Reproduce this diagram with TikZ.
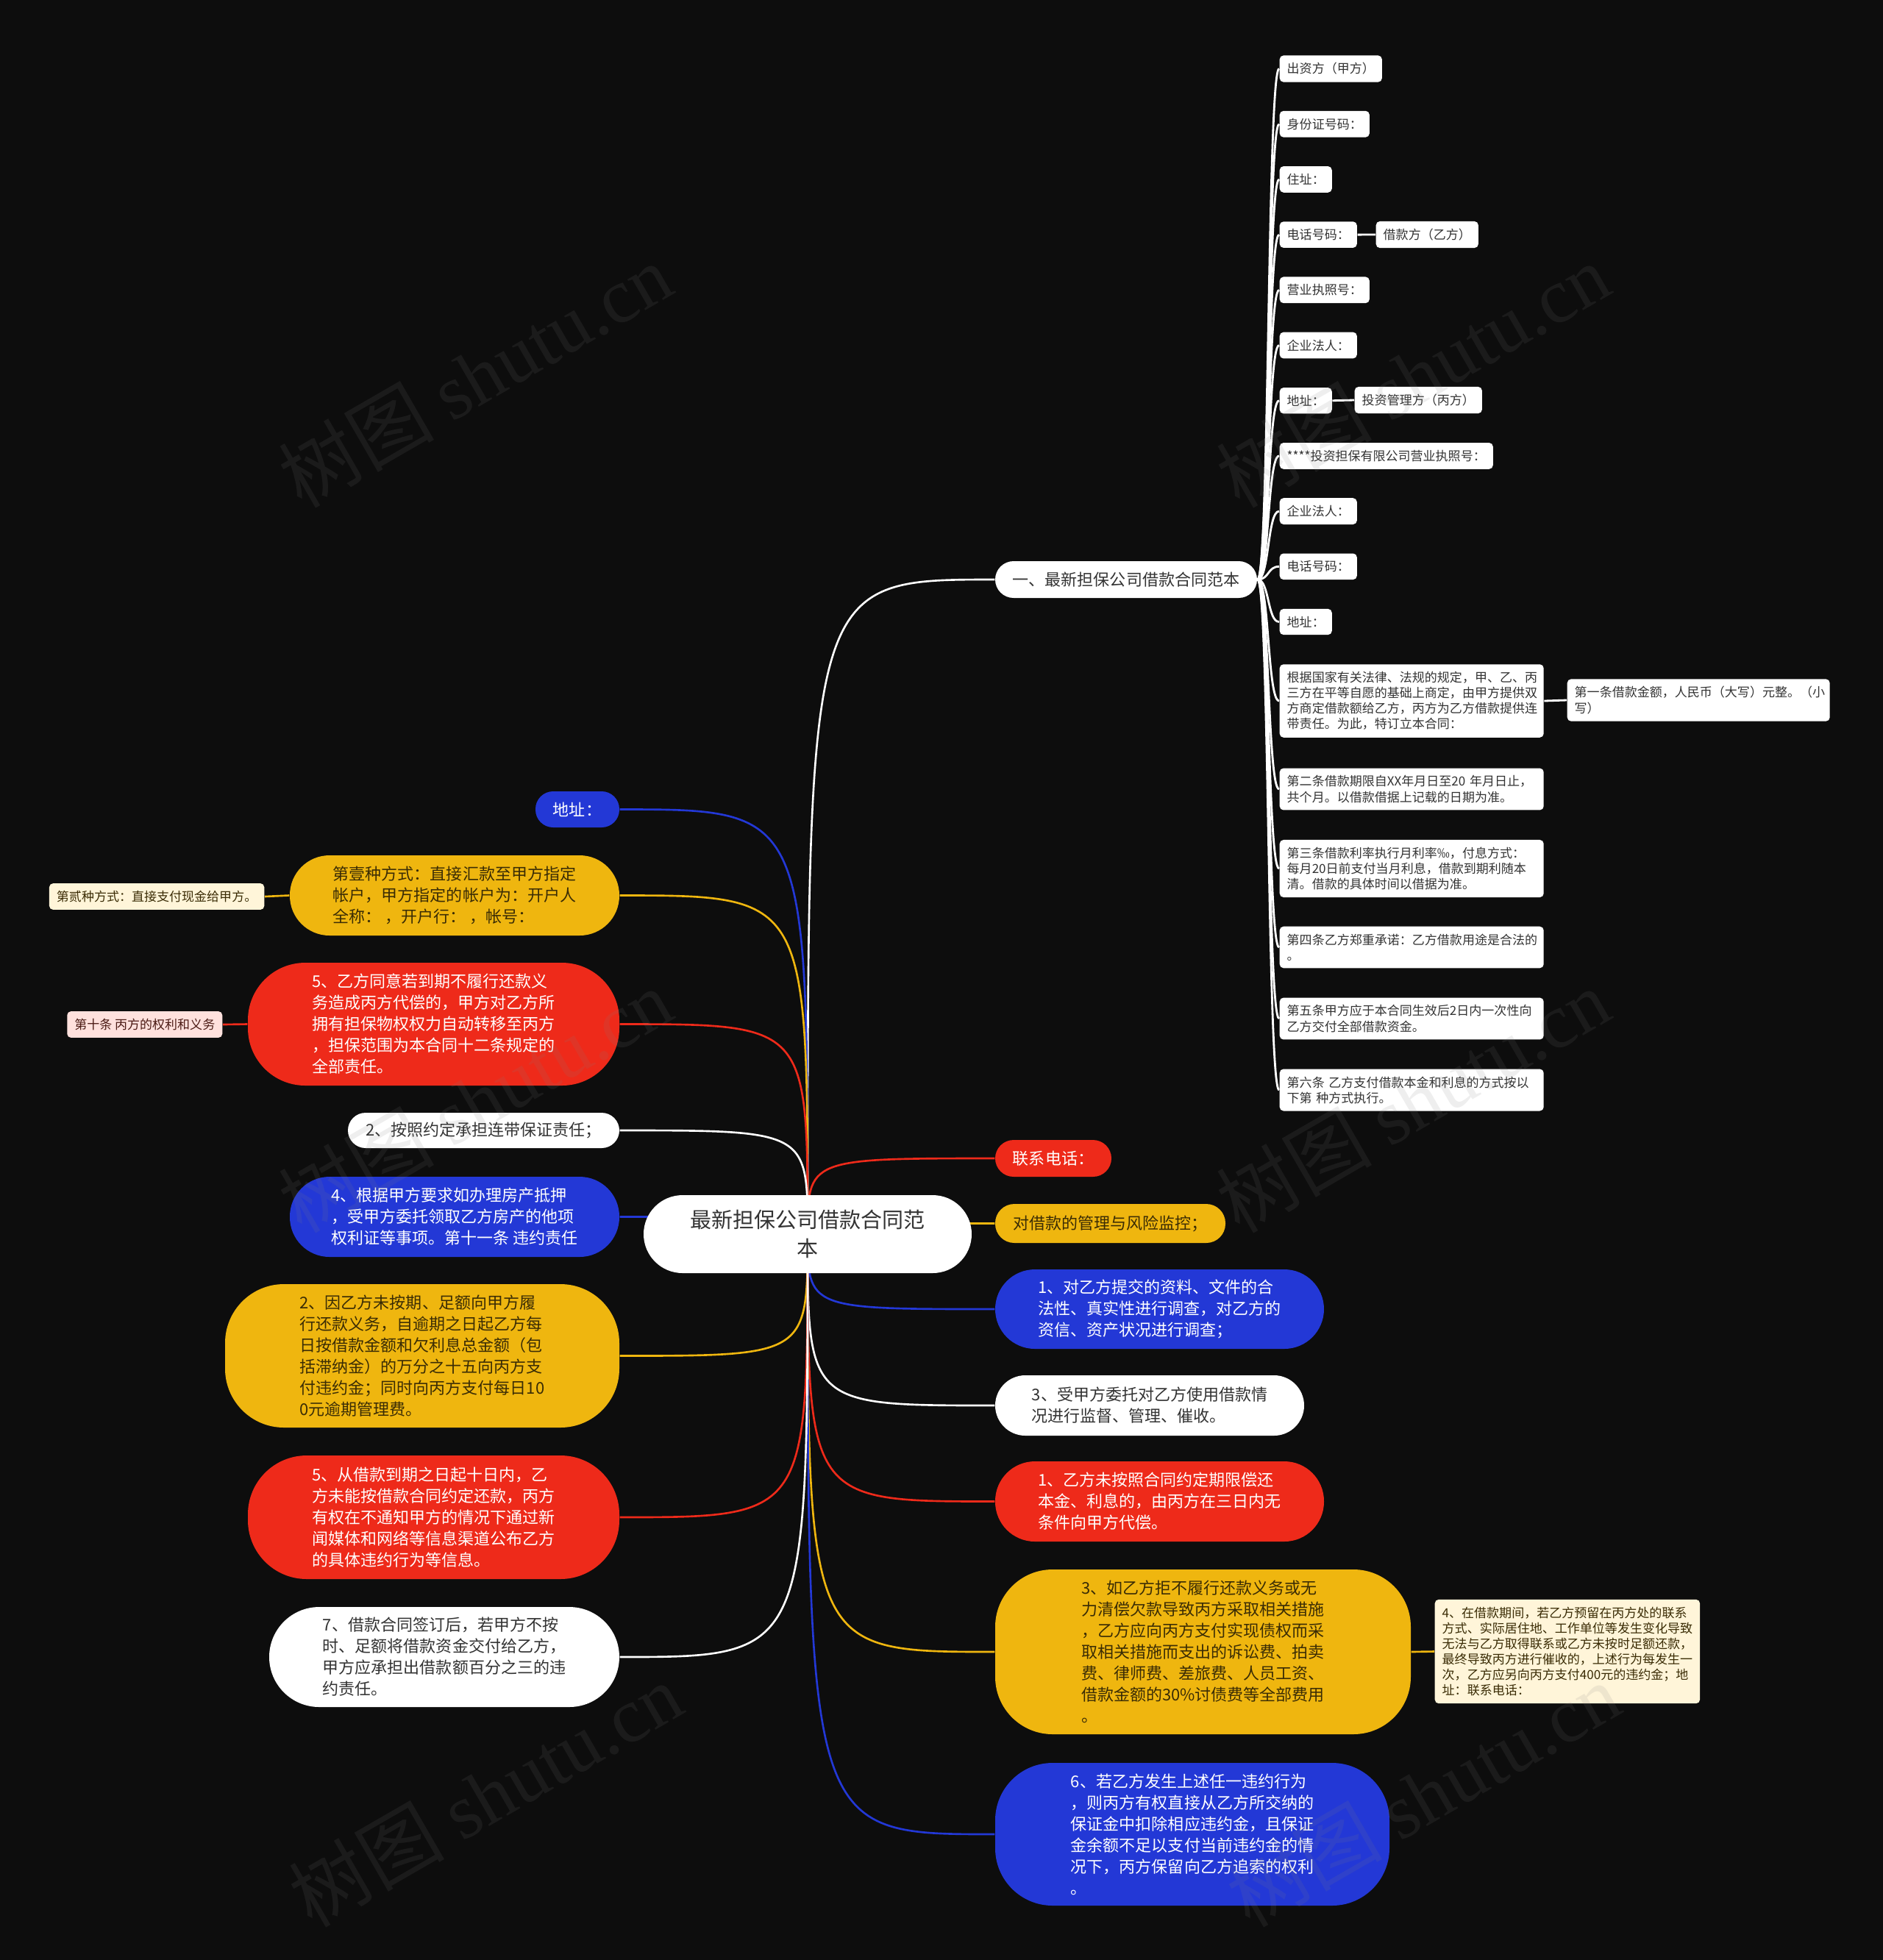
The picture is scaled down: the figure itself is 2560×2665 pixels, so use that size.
\documentclass[tikz,border=0pt]{standalone}
\usepackage{fontspec}
\setmainfont{Noto Sans CJK SC}
\newfontfamily\wmserif{Liberation Serif}

\definecolor{bgdark}{HTML}{0D0D0D}
\definecolor{mapblue}{HTML}{2338D6}
\definecolor{mapred}{HTML}{EE2A1A}
\definecolor{mapyellow}{HTML}{EFB60F}
\definecolor{mapcream}{HTML}{FFF5D9}
\definecolor{mappink}{HTML}{FFE1DD}
\definecolor{darktext}{HTML}{333333}
\definecolor{browntext}{HTML}{3A2C05}
\definecolor{pinktext}{HTML}{4A1A14}

\newdimen\pxu \pxu=0.01cm
\newcommand\smallsz{\fontsize{4.84pt}{6pt}\selectfont}
\newcommand\midsz{\fontsize{6.26pt}{8.25pt}\selectfont}
\newcommand\rootsz{\fontsize{8.25pt}{11.1pt}\selectfont}

\pgfdeclarelayer{bg}
\pgfsetlayers{bg,main}

\tikzset{
  leaf/.style={fill=white, text=darktext, font=\smallsz, rounded corners=1.5pt,
    inner xsep=10\pxu, inner ysep=10\pxu, align=left},
  topic/.style n args={3}{font=\midsz, align=left, inner sep=0pt,
    minimum width=#1\pxu, minimum height=#2\pxu, rounded corners=#3\pxu},
  bluetopic/.style={fill=mapblue, text=white},
  redtopic/.style={fill=mapred, text=white},
  yellowtopic/.style={fill=mapyellow, text=browntext},
  whitetopic/.style={fill=white, text=darktext},
  link/.style={line width=0.75pt},
  twig/.style={line width=0.8pt, white},
  wm/.style={text=gray, opacity=0.13, rotate=30, font=\fontsize{30pt}{30pt}\selectfont},
}

\begin{document}
\begin{tikzpicture}[x=0.01cm, y=-0.01cm]
\useasboundingbox (0,0) rectangle (2560,2665);
\begin{pgfonlayer}{bg}
  \fill[bgdark] (0,0) rectangle (2560,2665);
\end{pgfonlayer}

% centre
\node[topic={446}{106}{53}, whitetopic, font=\rootsz, align=center] (root) at (1098,1678) {最新担保公司借款合同范\\本};

% right branches
\node[topic={356}{50}{25}, whitetopic] (top) at (1531,788) {一、最新担保公司借款合同范本};
\node[topic={158}{50}{25}, redtopic] (phone) at (1432,1575) {联系电话：};
\node[topic={313}{53}{26}, yellowtopic] (risk) at (1509.5,1663.5) {对借款的管理与风险监控；};
\node[topic={447}{108}{54}, bluetopic] (check) at (1576.5,1780) {1、对乙方提交的资料、文件的合\\法性、真实性进行调查，对乙方的\\资信、资产状况进行调查；};
\node[topic={420}{82}{41}, whitetopic] (supervise) at (1563,1911) {3、受甲方委托对乙方使用借款情\\况进行监督、管理、催收。};
\node[topic={447}{109}{54}, redtopic] (repay) at (1576.5,2041.5) {1、乙方未按照合同约定期限偿还\\本金、利息的，由丙方在三日内无\\条件向甲方代偿。};
\node[topic={565}{224}{78}, yellowtopic] (costs) at (1635.5,2246) {3、如乙方拒不履行还款义务或无\\力清偿欠款导致丙方采取相关措施\\，乙方应向丙方支付实现债权而采\\取相关措施而支出的诉讼费、拍卖\\费、律师费、差旅费、人员工资、\\借款金额的30\%讨债费等全部费用\\。};
\node[leaf, fill=mapcream, text=browntext, anchor=west] (contact) at (1950,2245.5) {4、在借款期间，若乙方预留在丙方处的联系\\方式、实际居住地、工作单位等发生变化导致\\无法与乙方取得联系或乙方未按时足额还款，\\最终导致丙方进行催收的，上述行为每发生一\\次，乙方应另向丙方支付400元的违约金；地\\址：联系电话：};
\node[topic={536}{194}{78}, bluetopic] (deposit) at (1621,2494) {6、若乙方发生上述任一违约行为\\，则丙方有权直接从乙方所交纳的\\保证金中扣除相应违约金，且保证\\金余额不足以支付当前违约金的情\\况下，丙方保留向乙方追索的权利\\。};

% contract parties
\foreach \txt [count=\i] in {出资方（甲方）,身份证号码：,住址：,电话号码：,营业执照号：,企业法人：,地址：,****投资担保有限公司营业执照号：,企业法人：,电话号码：,地址：}
  \node[leaf, anchor=west] (r\i) at (1739,{93.5+75.2*(\i-1)}) {\txt};
\node[leaf, anchor=west] (borrower) at (1870,319) {借款方（乙方）};
\node[leaf, anchor=west] (guarantor) at (1841,544) {投资管理方（丙方）};

% articles
\node[leaf, anchor=west, text width=339\pxu] (basis) at (1739,953) {根据国家有关法律、法规的规定，甲、乙、丙\\三方在平等自愿的基础上商定，由甲方提供双\\方商定借款额给乙方，丙方为乙方借款提供连\\带责任。为此，特订立本合同：};
\node[leaf, anchor=west, text width=337\pxu] (art1) at (2130,952) {第一条借款金额，人民币（大写）元整。（小\\写）};
\node[leaf, anchor=west, text width=339\pxu] (term) at (1739,1073) {第二条借款期限自XX年月日至20 年月日止，\\共个月。以借款借据上记载的日期为准。};
\node[leaf, anchor=west, text width=339\pxu] (rate) at (1739,1181) {第三条借款利率执行月利率‰，付息方式：\\每月20日前支付当月利息，借款到期利随本\\清。借款的具体时间以借据为准。};
\node[leaf, anchor=west, text width=339\pxu] (usage) at (1739,1288) {第四条乙方郑重承诺：乙方借款用途是合法的\\。};
\node[leaf, anchor=west, text width=339\pxu] (funding) at (1739,1385) {第五条甲方应于本合同生效后2日内一次性向\\乙方交付全部借款资金。};
\node[leaf, anchor=west, text width=339\pxu] (method) at (1739,1482) {第六条 乙方支付借款本金和利息的方式按以\\下第 种方式执行。};

% left branches
\node[topic={114}{49}{24}, bluetopic] (addr) at (785,1100.5) {地址：};
\node[topic={448}{109}{54}, yellowtopic] (pay1) at (618,1217.5) {第壹种方式：直接汇款至甲方指定\\帐户，甲方指定的帐户为：开户人\\全称： ，开户行： ，帐号：};
\node[leaf, fill=mapcream, text=browntext, anchor=east] (pay2) at (360,1219) {第贰种方式：直接支付现金给甲方。};
\node[topic={505}{167}{78}, redtopic] (transfer) at (589.5,1392.5) {5、乙方同意若到期不履行还款义\\务造成丙方代偿的，甲方对乙方所\\拥有担保物权权力自动转移至丙方\\，担保范围为本合同十二条规定的\\全部责任。};
\node[leaf, fill=mappink, text=pinktext, anchor=east] (art10) at (303,1393) {第十条 丙方的权利和义务};
\node[topic={369}{48}{24}, whitetopic] (joint) at (657.5,1537) {2、按照约定承担连带保证责任；};
\node[topic={448}{109}{54}, bluetopic] (mortgage) at (618,1654.5) {4、根据甲方要求如办理房产抵押\\，受甲方委托领取乙方房产的他项\\权利证等事项。第十一条 违约责任};
\node[topic={536}{195}{80}, yellowtopic] (penalty) at (574,1843.5) {2、因乙方未按期、足额向甲方履\\行还款义务，自逾期之日起乙方每\\日按借款金额和欠利息总金额（包\\括滞纳金）的万分之十五向丙方支\\付违约金；同时向丙方支付每日10\\0元逾期管理费。};
\node[topic={505}{168}{80}, redtopic] (publish) at (589.5,2063) {5、从借款到期之日起十日内，乙\\方未能按借款合同约定还款，丙方\\有权在不通知甲方的情况下通过新\\闻媒体和网络等信息渠道公布乙方\\的具体违约行为等信息。};
\node[topic={476}{136}{68}, whitetopic] (delay) at (604,2253) {7、借款合同签订后，若甲方不按\\时、足额将借款资金交付给乙方，\\甲方应承担出借款额百分之三的违\\约责任。};

\begin{pgfonlayer}{bg}
  \foreach \t/\c in {top/white,phone/mapred,risk/mapyellow,check/mapblue,supervise/white,repay/mapred,costs/mapyellow,deposit/mapblue}
    \draw[link, \c] (root.center) .. controls (root.center |- \t.west) .. (\t.west);
  \foreach \t/\c in {addr/mapblue,pay1/mapyellow,transfer/mapred,joint/white,mortgage/mapblue,penalty/mapyellow,publish/mapred,delay/white}
    \draw[link, \c] (root.center) .. controls (root.center |- \t.east) .. (\t.east);
  \foreach \t in {r1,r2,r3,r4,r5,r6,r7,r8,r9,r10,r11,basis,term,rate,usage,funding,method}
    \draw[twig] (top.east) .. controls +(16,0) and +(-16,0) .. (\t.west);
  \draw[twig] (r4.east) -- (borrower.west);
  \draw[twig] (r7.east) -- (guarantor.west);
  \draw[twig] (basis.east) -- (art1.west);
  \draw[link, mapyellow] (costs.east) -- (contact.west);
  \draw[link, mapyellow] (pay1.west) -- (pay2.east);
  \draw[link, mapred] (transfer.west) -- (art10.east);
\end{pgfonlayer}

% watermark
\foreach \wx/\wy [count=\k] in {646/510,1921/510,646/1496,1921/1496,660/2440,1935/2440}
  \node[wm] (wm\k) at (\wx,\wy) {树图 {\wmserif shutu.cn}};
\end{tikzpicture}
\end{document}
